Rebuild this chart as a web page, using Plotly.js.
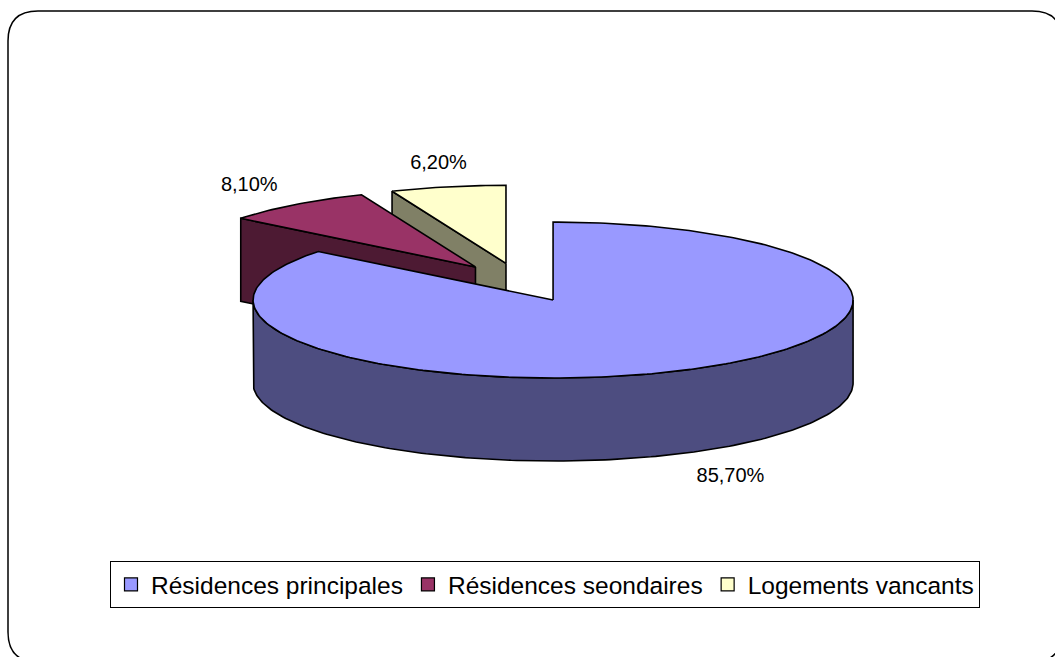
<!DOCTYPE html>
<html><head><meta charset="utf-8">
<script src="https://cdn.plot.ly/plotly-3.0.1.min.js"></script>
<style>html,body{margin:0;padding:0;background:#fff}#chart{width:1055px;height:657px}</style>
</head><body><div id="chart"></div>
<script>
// ---- data ----
const categories = ['Résidences principales', 'Résidences seondaires', 'Logements vancants'];
const values = [85.7, 8.1, 6.2];
const valueLabels = values.map(v => v.toFixed(2).replace('.', ',') + '%');

// ---- style ----
const topColors = ['#9999FF', '#993366', '#FFFFCC'];
const sideColors = ['#4D4D80', '#4D1A33', '#808066'];
const W = 1055, H = 657;
const CX = 520.5, CY = 282.5, RX = 300, RY = 78, DEPTH = 83, EXPLODE = 0.25;
const LABEL_KX = 1.3, LABEL_KY = 1.3, LABEL_SHIFT = 8;

const total = values.reduce((a, b) => a + b, 0);
let acc = 0;
const slices = values.map((v, i) => {
  const s = acc / total * 360; acc += v; const e = acc / total * 360;
  return { i, s, e, m: (s + e) / 2 };
});
const rad = d => d * Math.PI / 180;
function center(sl) {
  const m = rad(sl.m);
  return [CX + EXPLODE * RX * Math.sin(m), CY - EXPLODE * RY * Math.cos(m)];
}
function pt(c, th, dz) {
  return [c[0] + RX * Math.sin(rad(th)), c[1] - RY * Math.cos(rad(th)) + (dz || 0)];
}
function arc(c, a, b, dz) {
  const n = Math.max(2, Math.ceil(Math.abs(b - a)));
  const out = [];
  for (let k = 0; k <= n; k++) out.push(pt(c, a + (b - a) * k / n, dz));
  return out;
}
function poly(points, fill) {
  const x = points.map(p => p[0]); const y = points.map(p => p[1]);
  x.push(points[0][0]); y.push(points[0][1]);
  return { type: 'scatter', mode: 'lines', x, y, fill: 'toself', fillcolor: fill,
    line: { color: '#000', width: 1.6 }, hoverinfo: 'skip', showlegend: false };
}

const traces = [];
// draw back slices first
const order = slices.slice().sort((a, b) => Math.cos(rad(b.m)) - Math.cos(rad(a.m)));
order.forEach(sl => {
  const c = center(sl);
  const cb = [c[0], c[1] + DEPTH];
  if (Math.sin(rad(sl.s)) < -1e-6) traces.push(poly([c, pt(c, sl.s), pt(c, sl.s, DEPTH), cb], sideColors[sl.i]));
  if (Math.sin(rad(sl.e)) > 1e-6) traces.push(poly([c, pt(c, sl.e), pt(c, sl.e, DEPTH), cb], sideColors[sl.i]));
  const a = Math.max(sl.s, 90), b = Math.min(sl.e, 270);
  if (b > a) traces.push(poly(arc(c, a, b, 0).concat(arc(c, b, a, DEPTH)), sideColors[sl.i]));
  traces.push(poly([c].concat(arc(c, sl.s, sl.e, 0)), topColors[sl.i]));
});

// value labels
const lx = [], ly = [];
slices.forEach(sl => {
  const c = center(sl), m = rad(sl.m);
  lx.push(c[0] + LABEL_KX * RX * Math.sin(m) + LABEL_SHIFT);
  ly.push(c[1] - LABEL_KY * RY * Math.cos(m) + (Math.cos(m) < 0 ? DEPTH + 3 : 0));
});
traces.push({ type: 'scatter', mode: 'text', x: lx, y: ly, text: valueLabels,
  textposition: 'middle center', textfont: { family: 'Liberation Sans, Arial, sans-serif', size: 20, color: '#000' },
  hoverinfo: 'skip', showlegend: false });

// legend entries
categories.forEach((name, i) => traces.push({
  type: 'scatter', mode: 'markers', x: [null], y: [null], name,
  marker: { symbol: 'square', size: 13, color: topColors[i], line: { color: '#000', width: 1.2 } }
}));

const L = 8, T = 11, R = 1062, B = 662, r = 30;
const framePath = `M ${L + r},${T} H ${R - r} Q ${R},${T} ${R},${T + r} V ${B - r} Q ${R},${B} ${R - r},${B} H ${L + r} Q ${L},${B} ${L},${B - r} V ${T + r} Q ${L},${T} ${L + r},${T} Z`;

const layout = {
  width: W, height: H, margin: { l: 0, r: 0, t: 0, b: 0 },
  paper_bgcolor: '#fff', plot_bgcolor: '#fff',
  font: { family: 'Liberation Sans, Arial, sans-serif', color: '#000' },
  xaxis: { range: [0, W], visible: false, fixedrange: true },
  yaxis: { range: [H, 0], visible: false, fixedrange: true },
  showlegend: true,
  legend: { orientation: 'h', x: 545 / W, xanchor: 'center', y: 1 - 561 / H, yanchor: 'top',
    bordercolor: '#000', borderwidth: 1, bgcolor: '#fff',
    font: { family: 'Liberation Sans, Arial, sans-serif', size: 24.5, color: '#000' } },
  shapes: [{ type: 'path', xref: 'x', yref: 'y', path: framePath, line: { color: '#000', width: 1.5 }, layer: 'below' }]
};
Plotly.newPlot('chart', traces, layout, { displayModeBar: false, staticPlot: true });
</script>
</body></html>
